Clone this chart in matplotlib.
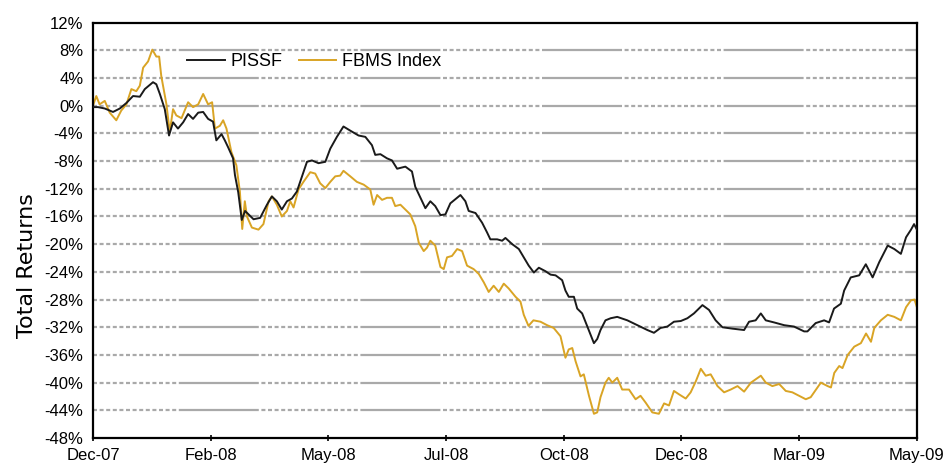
import matplotlib
matplotlib.use('Agg')
import matplotlib.pyplot as plt
import numpy as np

plt.rcParams['font.family'] = ['Liberation Sans', 'DejaVu Sans']
plt.rcParams['lines.scale_dashes'] = False

# 交易日序号 (0 = Dec-07, 350 = May-09) 与累计回报 (%)
pissf_day = [0, 2.1, 5.0, 8.5, 11.4, 14.2, 17.0, 19.9, 22.0, 25.5, 26.9, 28.4, 30.5, 32.3, 34.0,
             36.1, 38.3, 40.4, 42.5, 44.7, 46.8, 48.9, 51.0, 52.4, 54.6, 56.0, 57.4, 59.5, 60.3,
             61.7, 63.2, 64.6, 68.2, 71.0, 73.9, 76.0, 78.1, 80.2, 82.4, 84.5, 86.6, 88.8, 90.9,
             93.0, 95.8, 98.7, 100.8, 103.6, 106.4, 109.3, 112.8, 115.7, 118.5, 119.9, 122.1,
             124.9, 127.0, 129.2, 132.7, 135.5, 136.9, 139.1, 141.2, 143.3, 145.4, 147.6, 149.7,
             151.8, 156.1, 158.2, 159.6, 162.5, 165.3, 167.4, 168.8, 171.7, 173.8, 175.2, 178.1,
             180.9, 183.0, 185.1, 187.3, 189.4, 192.2, 194.4, 196.5, 199.3, 200.7, 202.1, 204.3,
             205.7, 207.8, 210.0, 212.8, 214.2, 215.6, 217.7, 219.9, 222.7, 227.0, 231.2, 235.5,
             238.3, 241.1, 244.0, 246.8, 249.7, 252.5, 255.3, 258.9, 261.7, 264.5, 267.4, 271.6,
             276.6, 278.7, 281.5, 283.7, 285.8, 289.3, 293.6, 297.8, 302.1, 303.5, 307.0, 310.6,
             312.7, 314.8, 317.7, 319.1, 321.9, 325.5, 328.3, 331.2, 334.0, 337.6, 340.4, 343.2,
             345.4, 347.5, 348.8, 350]
pissf_ret = [-0.2, -0.2, -0.4, -0.9, -0.4, 0.4, 1.4, 1.3, 2.4, 3.4, 3.1, 1.7, -0.5, -4.3, -2.4,
             -3.3, -2.4, -1.2, -1.9, -1.0, -0.9, -1.9, -2.3, -5.0, -4.1, -5.0, -6.0, -7.6, -10.0,
             -12.5, -16.5, -15.2, -16.4, -16.2, -14.3, -13.1, -13.8, -15.0, -13.8, -13.4, -12.4,
             -10.2, -8.1, -7.9, -8.3, -8.1, -6.2, -4.5, -3.0, -3.6, -4.3, -4.5, -5.7, -7.1, -7.0,
             -7.6, -7.9, -9.1, -8.8, -9.5, -11.7, -13.3, -14.8, -13.8, -14.5, -15.8, -15.7,
             -14.1, -12.9, -13.8, -15.2, -15.5, -16.9, -18.3, -19.3, -19.3, -19.5, -19.1, -20.0,
             -20.7, -21.9, -23.1, -24.1, -23.4, -23.9, -24.4, -24.5, -25.2, -26.7, -27.6, -27.6,
             -29.3, -30.0, -31.9, -34.3, -33.7, -32.4, -31.0, -30.7, -30.5, -31.0, -31.7, -32.4,
             -32.8, -32.1, -31.9, -31.2, -31.1, -30.7, -30.0, -28.8, -29.5, -31.0, -32.0, -32.2,
             -32.4, -31.2, -31.0, -30.0, -31.0, -31.3, -31.7, -31.9, -32.6, -32.6, -31.4, -31.0,
             -31.3, -29.3, -28.6, -26.7, -24.8, -24.5, -22.9, -24.8, -22.6, -20.2, -20.7, -21.4,
             -19.0, -17.9, -17.1, -17.9]

fbms_day = [0, 1.4, 2.8, 5.0, 7.1, 9.9, 12.0, 14.2, 16.3, 18.4, 19.9, 21.3, 23.4, 25.2, 26.9,
            28.1, 29.0, 31.2, 32.6, 34.0, 35.4, 37.6, 40.4, 42.5, 44.7, 46.8, 48.9, 50.6, 51.8,
            53.9, 55.3, 56.7, 58.8, 60.9, 62.4, 63.4, 64.5, 65.4, 67.5, 70.3, 72.4, 74.6, 76.0,
            78.1, 80.2, 82.4, 83.8, 85.2, 87.3, 89.4, 92.3, 94.4, 96.5, 98.7, 100.8, 102.9,
            105.0, 106.4, 109.3, 112.1, 115.0, 117.8, 119.2, 120.7, 122.8, 124.9, 127.0, 128.4,
            130.6, 132.7, 134.8, 136.9, 138.4, 140.5, 141.9, 143.3, 145.4, 147.6, 149.0, 150.4,
            152.5, 154.7, 156.8, 158.9, 161.7, 163.9, 166.0, 168.1, 170.2, 172.4, 174.5, 176.6,
            179.5, 181.6, 183.0, 185.0, 187.1, 190.1, 192.9, 195.7, 198.6, 200.7, 202.1, 203.6,
            205.0, 207.1, 208.5, 210.7, 212.8, 214.2, 215.6, 217.7, 219.1, 220.6, 222.7, 224.8,
            227.7, 230.5, 232.6, 234.8, 237.6, 240.4, 242.6, 244.7, 246.8, 249.0, 251.8, 253.9,
            256.1, 258.2, 260.3, 262.4, 265.3, 268.1, 270.9, 273.8, 276.6, 279.5, 281.6, 283.7,
            285.8, 288.6, 291.5, 294.3, 297.1, 300.0, 302.8, 304.9, 307.8, 309.2, 312.1, 313.5,
            314.9, 317.0, 318.4, 320.6, 323.4, 326.2, 328.4, 330.5, 331.9, 334.7, 337.6, 340.4,
            343.2, 345.4, 347.5, 349.0, 350]
fbms_ret = [0.0, 1.4, 0.2, 0.7, -1.0, -2.1, -0.7, 0.2, 2.4, 2.1, 2.9, 5.5, 6.4, 8.1, 7.1,
            7.1, 4.3, 0.2, -3.8, -0.5, -1.4, -1.8, 0.5, -0.2, 0.2, 1.7, 0.2, 0.5, -3.3,
            -2.9, -2.1, -3.3, -6.7, -8.6, -12.4, -17.8, -13.8, -16.0, -17.6, -17.9, -17.1, -13.8,
            -13.1, -14.3, -16.0, -15.2, -13.8, -14.7, -12.1, -11.0, -9.6, -9.8, -11.2, -11.9,
            -11.0, -10.2, -10.1, -9.4, -10.2, -11.0, -11.4, -12.1, -14.3, -12.9, -13.6, -13.3,
            -13.3, -14.5, -14.3, -15.0, -15.7, -17.4, -19.8, -21.0, -20.5, -19.5, -20.2, -23.3,
            -23.6, -21.9, -21.7, -20.7, -21.0, -23.1, -23.6, -24.3, -25.5, -26.9, -26.0, -26.9,
            -25.7, -26.4, -27.6, -28.3, -30.2, -31.8, -31.0, -31.2, -31.7, -32.1, -33.3, -36.4,
            -35.2, -35.0, -36.9, -39.1, -38.8, -41.9, -44.5, -44.3, -42.1, -40.0, -39.3, -40.0,
            -39.3, -41.0, -41.0, -42.4, -41.9, -42.9, -44.3, -44.5, -43.0, -43.3, -41.2, -41.7,
            -42.3, -41.4, -39.8, -38.0, -39.0, -38.8, -40.5, -41.4, -41.0, -40.5, -41.3, -40.0,
            -39.5, -39.0, -40.0, -40.5, -40.2, -41.2, -41.4, -41.9, -42.4, -42.1, -40.7, -40.0,
            -40.5, -40.7, -38.6, -37.6, -37.9, -36.0, -34.8, -34.3, -32.9, -34.1, -32.1, -31.0,
            -30.2, -30.5, -31.0, -29.1, -28.1, -28.0, -29.1]

tick_days = [0, 50, 100, 150, 200, 250, 300, 350]
tick_labels = ['Dec-07', 'Feb-08', 'May-08', 'Jul-08', 'Oct-08', 'Dec-08', 'Mar-09', 'May-09']
y_ticks = np.arange(-48, 13, 4)

fig = plt.figure(figsize=(9.47, 4.72), dpi=100)
ax = fig.add_axes([0.0982, 0.072, 0.870, 0.880])

# 网格线: 短虚线段与实线段交替 (长度按像素)
px = 0.72
seg = [('d', 85), ('s', 80), ('d', 75), ('s', 72), ('d', 75), ('s', 72),
       ('d', 75), ('s', 79), ('d', 67), ('s', 79), ('d', 70)]
grid_dash = []
for kind, length in seg:
    if kind == 'd':
        n = int(round(length / 6.6))
        grid_dash += [4 * px, 2.6 * px] * n
    else:
        grid_dash += [length * px, 2.6 * px]
for yv in y_ticks[1:-1]:
    ax.axhline(yv, color='#A9A9A9', linewidth=1.6, dashes=grid_dash, zorder=1)

ax.plot(pissf_day, pissf_ret, color='#1a1a1a', linewidth=1.4, label='PISSF', zorder=3)
ax.plot(fbms_day, fbms_ret, color='#D9A425', linewidth=1.4, label='FBMS Index', zorder=2)

ax.set_xlim(0, 350)
ax.set_ylim(-48, 12)
ax.set_xticks(tick_days)
ax.set_xticklabels(tick_labels, fontsize=12)
ax.set_yticks(y_ticks)
ax.set_yticklabels(['%d%%' % v for v in y_ticks], fontsize=12)
ax.tick_params(axis='x', direction='inout', length=5, width=1.2, pad=5)
ax.tick_params(axis='y', length=0, pad=7)
for s in ax.spines.values():
    s.set_linewidth(1.6)
    s.set_color('black')

ax.set_ylabel('Total Returns', fontsize=16, family='DejaVu Sans')
ax.yaxis.set_label_coords(-0.068, 0.415)

ax.legend(loc='center left', bbox_to_anchor=(0.114, 0.906), ncol=2, frameon=False,
          fontsize=13, handlelength=2.1, handletextpad=0.3, columnspacing=0.9,
          borderpad=0, borderaxespad=0)

fig.savefig('out.png', dpi=100)
